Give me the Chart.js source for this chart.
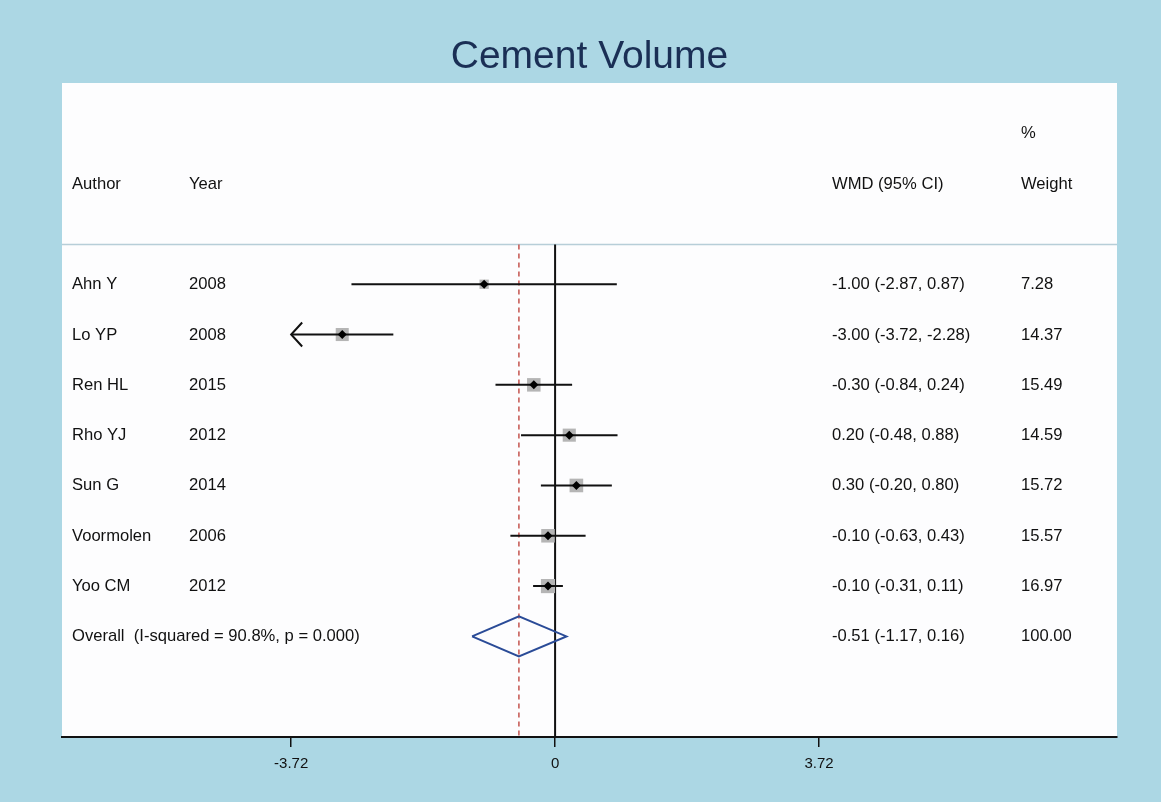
<!DOCTYPE html>
<html>
<head>
<meta charset="utf-8">
<title>Cement Volume</title>
<script src="https://cdn.jsdelivr.net/npm/chart.js@4.4.1/dist/chart.umd.min.js"></script>
<style>
    html, body { margin: 0; padding: 0; background: #acd7e4; }
    canvas { display: block; }
</style>
</head>
<body>
<canvas id="grafico-chart" width="1161" height="802"></canvas>
<script>

// datos de los estudios
const autores = ['Ahn Y', 'Lo YP', 'Ren HL', 'Rho YJ', 'Sun G', 'Voormolen', 'Yoo CM'];
const anios = ['2008', '2008', '2015', '2012', '2014', '2006', '2012'];
const wmd = [-1.00, -3.00, -0.30, 0.20, 0.30, -0.10, -0.10];
const inferior = [-2.87, -3.72, -0.84, -0.48, -0.20, -0.63, -0.31];
const superior = [0.87, -2.28, 0.24, 0.88, 0.80, 0.43, 0.11];
const pesos = [7.28, 14.37, 15.49, 14.59, 15.72, 15.57, 16.97];

const globalTexto = 'Overall  (I-squared = 90.8%, p = 0.000)';
const globalWmd = -0.51;
const globalInf = -1.17;
const globalSup = 0.16;
const globalPeso = 100.00;

const marcasX = [-3.72, 0, 3.72];
const etiquetasX = ['-3.72', '0', '3.72'];


const fuente = '"Liberation Sans", Arial, Helvetica, sans-serif';
const xMin = -6.95;
const xMax = 7.92;
const filaPct = 1;
const filaCabecera = 2;
const filaLinea = 3.21;
const filaPrimera = 4;
const yMax = 13;

const filas = autores.map((a, i) => filaPrimera + i);
const filaGlobal = filaPrimera + autores.length;


function fmt(v) {
    return v.toFixed(2);
}

function textoIC(est, lo, hi) {
    return `${fmt(est)} (${fmt(lo)}, ${fmt(hi)})`;
}


const fondo = {
    id: 'fondo',
    beforeDraw(chart) {
        const ctx = chart.ctx;
        const a = chart.chartArea;
        ctx.save();
        ctx.fillStyle = '#acd7e4';
        ctx.fillRect(0, 0, chart.width, chart.height);
        ctx.fillStyle = '#fdfdfe';
        ctx.fillRect(a.left, a.top, a.right - a.left, a.bottom - a.top);
        ctx.restore();
    }
};


const textos = {
    id: 'textos',
    afterDraw(chart) {
        const ctx = chart.ctx;
        const a = chart.chartArea;
        const y = chart.scales.y;
        const x = chart.scales.x;
        const colAutor = a.left + 10;
        const colAnio = a.left + 127;
        const colIC = a.left + 770;
        const colPeso = a.left + 959;

        ctx.save();

        // titulo
        ctx.fillStyle = '#1a2f55';
        ctx.font = '39px ' + fuente;
        ctx.textAlign = 'center';
        ctx.textBaseline = 'alphabetic';
        ctx.fillText('Cement Volume', (a.left + a.right) / 2, 68);

        ctx.fillStyle = '#111111';
        ctx.font = '16.6px ' + fuente;
        ctx.textAlign = 'left';

        const base = v => y.getPixelForValue(v) + 5;

        ctx.fillText('%', colPeso, base(filaPct));
        ctx.fillText('Author', colAutor, base(filaCabecera));
        ctx.fillText('Year', colAnio, base(filaCabecera));
        ctx.fillText('WMD (95% CI)', colIC, base(filaCabecera));
        ctx.fillText('Weight', colPeso, base(filaCabecera));

        autores.forEach((autor, i) => {
            const b = base(filas[i]);
            ctx.fillText(autor, colAutor, b);
            ctx.fillText(anios[i], colAnio, b);
            ctx.fillText(textoIC(wmd[i], inferior[i], superior[i]), colIC, b);
            ctx.fillText(fmt(pesos[i]), colPeso, b);
        });

        const bg = base(filaGlobal);
        ctx.fillText(globalTexto, colAutor, bg);
        ctx.fillText(textoIC(globalWmd, globalInf, globalSup), colIC, bg);
        ctx.fillText(fmt(globalPeso), colPeso, bg);

        // flechas para intervalos recortados
        ctx.strokeStyle = '#111';
        ctx.lineWidth = 2;
        autores.forEach((autor, i) => {
            if (inferior[i] <= marcasX[0]) {
                const px = x.getPixelForValue(marcasX[0]);
                const py = y.getPixelForValue(filas[i]);
                ctx.beginPath();
                ctx.moveTo(px + 11, py - 12);
                ctx.lineTo(px, py);
                ctx.lineTo(px + 11, py + 12);
                ctx.stroke();
            }
        });

        ctx.restore();
    }
};


// segmentos de intervalos de confianza
const segmentos = [];
autores.forEach((autor, i) => {
    segmentos.push({ x: Math.max(inferior[i], marcasX[0]), y: filas[i] });
    segmentos.push({ x: superior[i], y: filas[i] });
    segmentos.push({ x: NaN, y: NaN });
});

const rombo = [
    { x: globalInf, y: filaGlobal },
    { x: globalWmd, y: filaGlobal - 0.4 },
    { x: globalSup, y: filaGlobal },
    { x: globalWmd, y: filaGlobal + 0.4 },
    { x: globalInf, y: filaGlobal }
];


const ctx = document.getElementById('grafico-chart').getContext('2d');

const chart = new Chart(ctx, {
    type: 'scatter',
    data: {
        datasets: [
            {
                label: 'separador',
                data: [{ x: xMin, y: filaLinea }, { x: xMax, y: filaLinea }],
                showLine: true,
                borderColor: '#b7ced8',
                borderWidth: 1.5,
                pointRadius: 0,
                order: 9
            },
            {
                label: 'cero',
                data: [{ x: 0, y: filaLinea }, { x: 0, y: yMax }],
                showLine: true,
                borderColor: '#111111',
                borderWidth: 2,
                pointRadius: 0,
                order: 8
            },
            {
                label: 'efecto global',
                data: [{ x: globalWmd, y: filaLinea }, { x: globalWmd, y: yMax }],
                showLine: true,
                borderColor: '#c4544e',
                borderWidth: 1.5,
                borderDash: [5, 4],
                pointRadius: 0,
                order: 7
            },
            {
                label: 'pesos',
                data: wmd.map((v, i) => ({ x: v, y: filas[i] })),
                pointStyle: 'rect',
                pointRadius: c => 2.43 * Math.sqrt(pesos[c.dataIndex] || 0),
                backgroundColor: '#b5b5b5',
                borderWidth: 0,
                order: 6
            },
            {
                label: 'IC 95%',
                data: segmentos,
                showLine: true,
                spanGaps: false,
                borderColor: '#111111',
                borderWidth: 2,
                pointRadius: 0,
                order: 5
            },
            {
                label: 'WMD',
                data: wmd.map((v, i) => ({ x: v, y: filas[i] })),
                pointStyle: 'rectRot',
                pointRadius: 4.5,
                backgroundColor: '#000000',
                borderWidth: 0,
                order: 4
            },
            {
                label: 'global',
                data: rombo,
                showLine: true,
                borderColor: '#2a4b97',
                borderWidth: 2,
                pointRadius: 0,
                order: 3
            }
        ]
    },
    options: {
        responsive: false,
        animation: false,
        events: [],
        layout: {
            padding: { left: 62, right: 44, top: 83, bottom: 0 }
        },
        plugins: {
            legend: { display: false },
            title: { display: false },
            tooltip: { enabled: false }
        },
        scales: {
            x: {
                type: 'linear',
                position: 'bottom',
                min: xMin,
                max: xMax,
                afterBuildTicks: function(scale) {
                    scale.ticks = marcasX.map(v => ({ value: v }));
                },
                afterFit: function(scale) {
                    scale.height = 65;
                },
                grid: {
                    drawOnChartArea: false,
                    drawTicks: true,
                    tickLength: 10,
                    color: '#111111',
                    lineWidth: 1.5
                },
                border: {
                    display: true,
                    color: '#111111',
                    width: 2
                },
                ticks: {
                    padding: 8,
                    color: '#111111',
                    maxRotation: 0,
                    autoSkip: false,
                    font: { family: fuente, size: 15 },
                    callback: function(value, index) {
                        return etiquetasX[index];
                    }
                }
            },
            y: {
                type: 'linear',
                display: false,
                reverse: true,
                min: 0,
                max: yMax
            }
        }
    },
    plugins: [fondo, textos]
});

</script>
</body>
</html>
